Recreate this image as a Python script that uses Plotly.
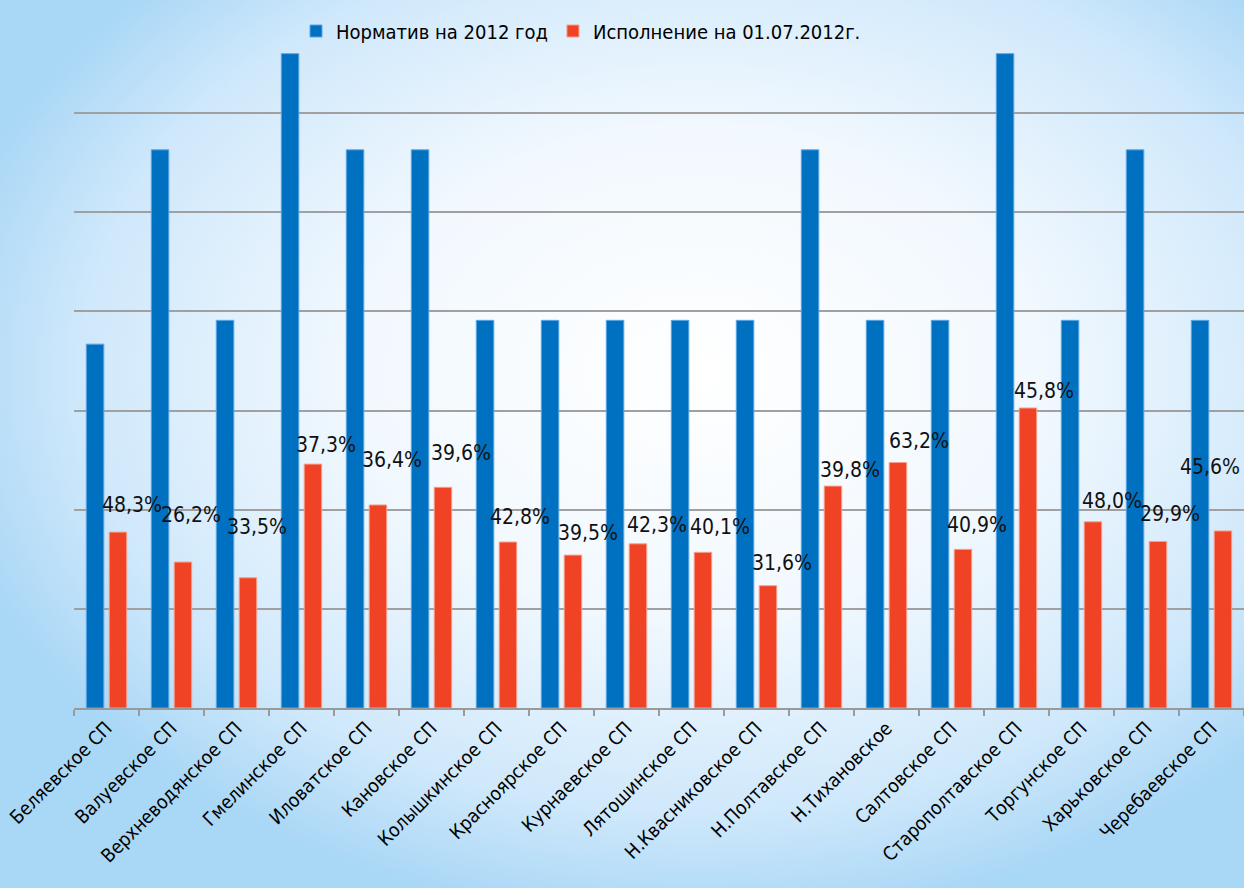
import base64
import plotly.graph_objects as go

# Settlements (categories on x axis)
settlements = [
    "Беляевское СП", "Валуевское СП", "Верхневодянское СП", "Гмелинское СП",
    "Иловатское СП", "Кановское СП", "Колышкинское СП", "Красноярское СП",
    "Курнаевское СП", "Лятошинское СП", "Н.Квасниковское СП", "Н.Полтавское СП",
    "Н.Тихановское", "Салтовское СП", "Старополтавское СП", "Торгунское СП",
    "Харьковское СП", "Черебаевское СП",
]

# Норматив на 2012 год
plan_2012 = [1835, 2815, 1955, 3300, 2815, 2815, 1955, 1955, 1955,
             1955, 1955, 2815, 1955, 1955, 3300, 1955, 2815, 1955]

# Исполнение на 01.07.2012г.
done_0107 = [887, 736, 657, 1230, 1024, 1113, 837, 771, 828,
             785, 617, 1119, 1238, 800, 1513, 939, 840, 893]

# Percent labels as printed on the chart
pct_labels = ["48,3%", "26,2%", "33,5%", "37,3%", "36,4%", "39,6%", "42,8%", "39,5%", "42,3%",
              "40,1%", "31,6%", "39,8%", "63,2%", "40,9%", "45,8%", "48,0%", "29,9%", "45,6%"]

# label placement relative to the top of each red bar (pixels)
label_dx = [13, 7, 8, 12, 13, 17, 11, 14, 18, 16, 13, 16, 20, 13, 15, 18, 11, -14]
label_dy = [27, 47, 51, 19, 45, 34, 25, 22, 19, 25, 23, 16, 22, 24, 17, 21, 27, 64]

W, H = 1244, 888
L, R, T, B = 74, 0, 14, 180
PW, PH = W - L - R, H - T - B

FONT = "Liberation Sans Narrow, DejaVu Sans Condensed, Arial Narrow, sans-serif"

# light blue slide background with a white centre
svg = (
    f'<svg xmlns="http://www.w3.org/2000/svg" width="{W}" height="{H}">'
    '<defs><radialGradient id="g" cx="0.56" cy="0.42" r="0.62">'
    '<stop offset="0" stop-color="#ffffff"/>'
    '<stop offset="0.45" stop-color="#f1f8fe"/>'
    '<stop offset="0.8" stop-color="#cfe8fb"/>'
    '<stop offset="1" stop-color="#a9d7f6"/>'
    '</radialGradient></defs>'
    f'<rect width="{W}" height="{H}" fill="url(#g)"/></svg>'
)
bg_src = "data:image/svg+xml;base64," + base64.b64encode(svg.encode()).decode()

fig = go.Figure()
fig.add_trace(go.Bar(
    x=settlements, y=plan_2012, name="Норматив на 2012 год",
    marker=dict(color="#0070c0", line=dict(color="#5aa6e6", width=1)),
))
fig.add_trace(go.Bar(
    x=settlements, y=done_0107, name="Исполнение на 01.07.2012г.",
    marker=dict(color="#f04325", line=dict(color="#f8a08c", width=1)),
))

annotations = []
for i, s in enumerate(settlements):
    annotations.append(dict(
        x=s, y=done_0107[i], text=pct_labels[i], showarrow=False,
        xshift=label_dx[i] + 12, yshift=label_dy[i], yanchor="middle",
        font=dict(family=FONT, size=21, color="#111111"),
    ))

fig.update_layout(
    width=W, height=H,
    margin=dict(l=L, r=R, t=T, b=B, pad=0),
    paper_bgcolor="white",
    plot_bgcolor="rgba(0,0,0,0)",
    barmode="group", bargap=0.295, bargroupgap=0.236,
    font=dict(family=FONT, size=19, color="#000000"),
    showlegend=True,
    legend=dict(orientation="h", x=(296 - L) / PW, y=(H - B - 31) / PH,
                xanchor="left", yanchor="middle", bgcolor="rgba(0,0,0,0)",
                font=dict(size=20), itemclick=False),
    annotations=annotations,
    images=[dict(source=bg_src, xref="paper", yref="paper",
                 x=-L / PW, y=1 + T / PH, sizex=W / PW, sizey=H / PH,
                 xanchor="left", yanchor="top", sizing="stretch", layer="below")],
)
fig.update_xaxes(
    tickangle=-45, tickfont=dict(size=19), showline=True, linecolor="#9a9a9a", linewidth=1.5,
    ticks="outside", tickson="boundaries", ticklen=6, tickcolor="#9a9a9a", tickwidth=1.5,
    showgrid=False,
)
fig.update_yaxes(
    range=[0, 3500], dtick=500, showticklabels=False, showline=False,
    showgrid=True, gridcolor="#a0a0a0", gridwidth=1.5, zeroline=False,
)

fig.write_html("out.html", config={"displayModeBar": False},
               post_script="document.body.style.margin='0';document.body.style.overflow='hidden';")
